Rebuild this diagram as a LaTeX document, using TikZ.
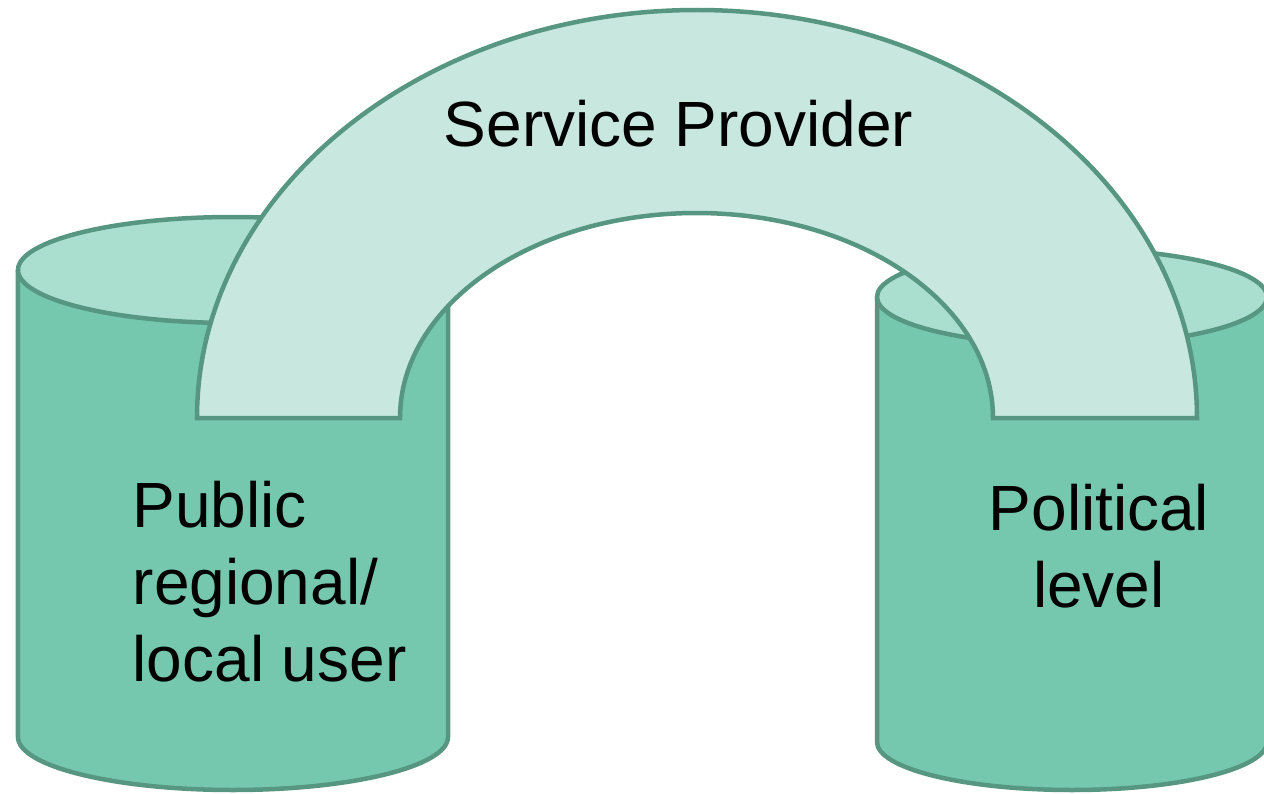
\documentclass[tikz,border=0pt]{standalone}
\usepackage{fontspec}
\setmainfont{Liberation Sans}
\usepackage{xcolor}
\definecolor{rimgreen}{HTML}{579680}
\definecolor{sidegreen}{HTML}{75C8AE}
\definecolor{topgreen}{HTML}{AADECE}
\definecolor{archgreen}{HTML}{C8E8DF}

\begin{document}
\begin{tikzpicture}[
    cylside/.style={draw=rimgreen, fill=sidegreen, line width=0.045cm, line join=round},
    cyltop/.style={draw=rimgreen, fill=topgreen, line width=0.045cm},
    archband/.style={draw=rimgreen, fill=archgreen, line width=0.045cm, line join=miter},
    label/.style={inner sep=0pt, font=\fontsize{18.2}{21.9}\selectfont},
    ]
    \useasboundingbox (0, 0) rectangle (12.64, 7.93);
    \clip (0, 0) rectangle (12.64, 7.93);
    % left cylinder
    \draw[cylside] (0.18, 5.23) -- (0.18, 0.56) arc[start angle=180, end angle=360, x radius=2.15, y radius=0.53] -- (4.48, 5.23);
    \draw[cyltop] (2.33, 5.23) ellipse [x radius=2.15, y radius=0.53];
    % right cylinder
    \draw[cylside] (8.77, 4.96) -- (8.77, 0.51) arc[start angle=180, end angle=360, x radius=1.95, y radius=0.48] -- (12.67, 4.96);
    \draw[cyltop] (10.72, 4.96) ellipse [x radius=1.95, y radius=0.48];
    % the arch
    \draw[archband] (1.97, 3.75) arc[start angle=180, end angle=0, x radius=5.00, y radius=4.08]
        -- (9.93, 3.75) arc[start angle=0, end angle=180, x radius=2.965, y radius=2.05] -- cycle;
    \node[label, anchor=base] (provider) at (6.785, 6.46) {Service Provider};
    \node[label, anchor=base west, align=left] (users) at (1.32, 1.12) {Public\\regional/\\local user};
    \node[label, anchor=base, align=center] (political) at (10.99, 1.86) {Political\\level};
\end{tikzpicture}
\end{document}
